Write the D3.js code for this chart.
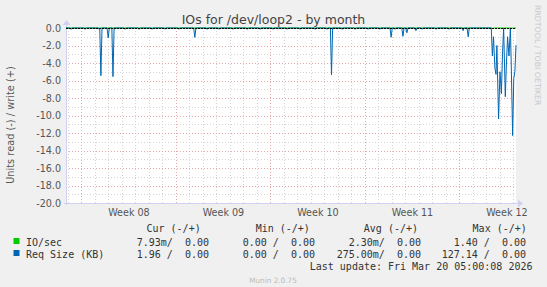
<!DOCTYPE html>
<html><head><meta charset="utf-8">
<script src="https://cdn.jsdelivr.net/npm/d3@7"></script>
<style>html,body{margin:0;padding:0;background:#f0f0f0;}svg{display:block;}</style>
</head><body>
<script>
// ---- data ----
const title = "IOs for /dev/loop2 - by month";
const yTicks = [0, -2, -4, -6, -8, -10, -12, -14, -16, -18, -20];
const weekLabelDates = ["2026-02-19 12:00", "2026-02-26 12:00", "2026-03-05 12:00", "2026-03-12 12:00", "2026-03-19 12:00"];
const timeDomain = ["2026-02-14 21:00", "2026-03-20 05:00"];
// Req Size (KB), read side (drawn negative)
const reqSizeRead = [
 ["02-14 21:00",0],
 ["02-15 04:00",0],["02-15 06:00",-0.15],["02-15 08:00",0],
 ["02-16 05:00",0],["02-16 07:00",-0.15],["02-16 09:00",0],
 ["02-17 06:00",0],["02-17 08:00",-0.15],["02-17 09:00",0],["02-17 11:00",-5.45],["02-17 13:00",0],
 ["02-17 22:00",0],["02-18 00:00",-1.14],["02-18 02:00",0],
 ["02-18 06:30",0],["02-18 08:30",-5.56],["02-18 10:30",0],
 ["02-19 04:00",0],["02-19 06:00",-0.15],["02-19 08:00",0],
 ["02-20 05:00",0],["02-20 07:00",-0.15],["02-20 09:00",0],
 ["02-21 04:00",0],["02-21 06:00",-0.15],["02-21 08:00",0],
 ["02-22 03:00",0],["02-22 05:00",-0.15],["02-22 07:00",0],
 ["02-23 04:00",0],["02-23 06:00",-0.15],["02-23 08:00",0],
 ["02-24 08:00",0],["02-24 10:00",-1.07],["02-24 12:00",0],
 ["02-25 06:00",0],["02-25 08:00",-0.15],["02-25 10:00",0],
 ["02-26 03:00",0],["02-26 05:00",-0.15],["02-26 07:00",0],
 ["02-27 04:00",0],["02-27 06:00",-0.15],["02-27 08:00",0],
 ["02-28 05:00",0],["02-28 07:00",-0.15],["02-28 09:00",0],
 ["03-01 04:00",0],["03-01 06:00",-0.15],["03-01 08:00",0],
 ["03-02 03:00",0],["03-02 05:00",-0.15],["03-02 07:00",0],
 ["03-03 04:00",0],["03-03 06:00",-0.15],["03-03 08:00",0],
 ["03-04 03:00",0],["03-04 05:00",-0.15],["03-04 07:00",0],
 ["03-05 06:00",0],["03-05 08:00",-0.15],["03-05 10:00",0],
 ["03-06 03:00",0],["03-06 05:00",-0.15],["03-06 07:00",0],
 ["03-06 11:00",0],["03-06 13:00",-5.35],["03-06 15:00",0],
 ["03-07 06:00",0],["03-07 08:00",-0.15],["03-07 10:00",0],
 ["03-08 05:00",0],["03-08 07:00",-0.15],["03-08 09:00",0],
 ["03-09 04:00",0],["03-09 06:00",-0.15],["03-09 08:00",0],
 ["03-10 01:00",0],["03-10 03:00",-0.15],["03-10 05:00",0],
 ["03-10 21:00",0],["03-10 23:00",-1.05],["03-11 01:00",0],
 ["03-11 04:00",0],["03-11 06:00",-0.15],["03-11 08:00",0],
 ["03-11 18:00",0],["03-11 20:00",-0.95],["03-11 22:00",0],
 ["03-12 01:00",0],["03-12 03:00",-0.55],["03-12 05:00",0],
 ["03-12 17:00",0],["03-12 19:00",-0.3],["03-12 21:00",0],
 ["03-13 04:00",0],["03-13 06:00",-0.15],["03-13 08:00",0],
 ["03-14 05:00",0],["03-14 07:00",-0.15],["03-14 09:00",0],
 ["03-15 04:00",0],["03-15 06:00",-0.15],["03-15 08:00",0],
 ["03-16 05:00",0],["03-16 07:00",-0.3],["03-16 09:00",0],
 ["03-16 14:00",0],["03-16 16:00",-1.0],["03-16 18:00",0],
 ["03-18 09:00",0],["03-18 11:00",-3.2],["03-18 13:00",-1.0],["03-18 15:30",-4.6],
 ["03-18 17:30",-5.3],["03-18 19:00",-2.0],["03-18 22:00",-10.4],["03-19 00:30",-5.0],
 ["03-19 03:00",-7.5],["03-19 05:00",-3.0],["03-19 07:00",0],["03-19 10:00",-7.85],
 ["03-19 12:00",-4.0],["03-19 14:00",-1.0],["03-19 16:30",-3.2],["03-19 19:00",0],
 ["03-19 20:30",-4.0],["03-19 23:00",-12.3],["03-20 01:00",-5.8],["03-20 03:00",-5.0],
 ["03-20 05:00",-1.96]
];
// IO/sec, read side (values are in milli-units, essentially zero at this scale)
const ioSecRead = [
 ["02-14 21:00",0],["03-18 09:00",0],["03-18 11:00",-0.05],["03-18 13:00",0],["03-20 05:00",-0.01]
];
const legendHeaders = ["Cur (-/+)", "Min (-/+)", "Avg (-/+)", "Max (-/+)"];
const legendSeries = ["IO/sec", "Req Size (KB)"];
const legendColors = ["#00cc00", "#0066b3"];
const legendValues = [
 ["7.93m/  0.00", "0.00 /  0.00", "2.30m/  0.00", "1.40 /  0.00"],
 ["1.96 /  0.00", "0.00 /  0.00", "275.00m/  0.00", "127.14 /  0.00"]
];
const lastUpdate = "Last update: Fri Mar 20 05:00:08 2026";
const footer = "Munin 2.0.75";
const sideText = "RRDTOOL / TOBI OETIKER";

// ---- drawing ----
const W = 547, H = 287;
const L = 66, R = 516, T = 28, B = 203;
const parseFull = d3.utcParse("%Y-%m-%d %H:%M");
const parseShort = s => parseFull("2026-" + s);
const nb = s => s.replace(/ /g, "\u00A0");

const svg = d3.select("body").append("svg").attr("width", W).attr("height", H)
  .style("font-family", "'DejaVu Sans', sans-serif");
svg.append("rect").attr("width", W).attr("height", H).attr("fill", "#f0f0f0");

const x = d3.scaleUtc().domain(timeDomain.map(parseFull)).range([L, R]);
const y = d3.scaleLinear().domain([-20, 0]).range([B, T]);

svg.append("rect").attr("x", L).attr("y", T).attr("width", R - L).attr("height", B - T).attr("fill", "#ffffff");

const days = d3.utcDay.range(x.domain()[0], x.domain()[1]);
const mondays = d3.utcMonday.range(x.domain()[0], x.domain()[1]);
const g = svg.append("g").attr("shape-rendering", "crispEdges");
const minorY = d3.range(-19, 0, 2);
g.selectAll(".mh").data(minorY).join("line")
  .attr("x1", L).attr("x2", R).attr("y1", d => Math.round(y(d)) + 0.5).attr("y2", d => Math.round(y(d)) + 0.5)
  .attr("stroke", "#d4d4d4").attr("stroke-dasharray", "1,2");
g.selectAll(".mv").data(days.filter(d => d3.utcMonday.floor(d) - d !== 0)).join("line")
  .attr("x1", d => Math.round(x(d)) + 0.5).attr("x2", d => Math.round(x(d)) + 0.5).attr("y1", T).attr("y2", B)
  .attr("stroke", "#d4d4d4").attr("stroke-dasharray", "1,2");
g.selectAll(".Mh").data(yTicks.filter(v => v !== 0 && v !== -20)).join("line")
  .attr("x1", L).attr("x2", R).attr("y1", d => Math.round(y(d)) + 0.5).attr("y2", d => Math.round(y(d)) + 0.5)
  .attr("stroke", "#e8a8a8").attr("stroke-dasharray", "1,2");
g.selectAll(".Mv").data(mondays).join("line")
  .attr("x1", d => Math.round(x(d)) + 0.5).attr("x2", d => Math.round(x(d)) + 0.5).attr("y1", T).attr("y2", B + 2)
  .attr("stroke", "#e8a8a8").attr("stroke-dasharray", "1,2");

g.append("line").attr("x1", L + 0.5).attr("x2", L + 0.5).attr("y1", T - 4).attr("y2", B + 2).attr("stroke", "#d0d0f0");
g.append("line").attr("x1", L - 2).attr("x2", R + 2).attr("y1", B + 0.5).attr("y2", B + 0.5).attr("stroke", "#d0d0f0");
svg.append("path").attr("d", `M${L - 3.5},${T - 3} L${L + 4.5},${T - 3} L${L + 0.5},${T - 8} Z`).attr("fill", "#d0d0f0");
svg.append("path").attr("d", `M${R + 2},${B - 3.5} L${R + 2},${B + 4.5} L${R + 7},${B + 0.5} Z`).attr("fill", "#d0d0f0");

svg.append("g").selectAll("text").data(yTicks).join("text")
  .attr("x", 61).attr("y", d => y(d) + 3.5).attr("text-anchor", "end")
  .attr("font-size", "9.6px").attr("fill", "#555").text(d => d.toFixed(1));

const xAxis = d3.axisBottom(x).tickValues(weekLabelDates.map(parseFull))
  .tickFormat(d3.utcFormat("Week %V")).tickSize(0).tickPadding(0);
const ax = svg.append("g").attr("transform", `translate(0,${B + 6})`).call(xAxis);
ax.select(".domain").remove();
ax.selectAll("text").attr("font-family", "'DejaVu Sans', sans-serif").attr("font-size", "9.6px")
  .attr("fill", "#555").attr("dy", "0.71em");

const line = d3.line().x(d => x(parseShort(d[0]))).y(d => y(d[1]));
svg.append("path").datum(ioSecRead).attr("d", line).attr("fill", "none").attr("stroke", legendColors[0]).attr("stroke-width", 1);
svg.append("path").datum(reqSizeRead).attr("d", line).attr("fill", "none").attr("stroke", legendColors[1]).attr("stroke-width", 1);
svg.append("line").attr("x1", L).attr("x2", R).attr("y1", y(0) + 0.5).attr("y2", y(0) + 0.5)
  .attr("stroke", "#000").attr("stroke-dasharray", "2,1").attr("shape-rendering", "crispEdges");

svg.append("text").attr("x", 273.5).attr("y", 24).attr("text-anchor", "middle")
  .attr("font-size", "12.5px").attr("fill", "#444").text(title);
svg.append("text").attr("transform", "translate(14,125) rotate(-90)").attr("text-anchor", "middle")
  .attr("font-size", "9.8px").attr("fill", "#555").text("Units read (-) / write (+)");
svg.append("text").attr("transform", "translate(535,5) rotate(90)").attr("text-anchor", "start")
  .attr("font-size", "7.8px").attr("fill", "#c8c8c8").text(sideText);

const mono = "'DejaVu Sans Mono', monospace";
const hdrX = [146.5, 255.7, 363.8, 472.6];
const valEnd = [209, 315, 421, 526];
const leg = svg.append("g").attr("font-family", mono).attr("font-size", "10px").attr("fill", "#333");
leg.selectAll(".h").data(legendHeaders).join("text").attr("x", (d, i) => hdrX[i]).attr("y", 232).text(d => nb(d));
legendSeries.forEach((s, r) => {
  const yy = 245.5 + r * 12;
  leg.append("rect").attr("x", 13.5).attr("y", yy - 7.5).attr("width", 6).attr("height", 6).attr("fill", legendColors[r]);
  leg.append("text").attr("x", 26).attr("y", yy).text(nb(s));
  leg.selectAll(".v" + r).data(legendValues[r]).join("text")
    .attr("x", (d, i) => valEnd[i]).attr("y", yy).attr("text-anchor", "end").text(d => nb(d));
});
leg.append("text").attr("x", 532.5).attr("y", 269.5).attr("text-anchor", "end").text(nb(lastUpdate));
svg.append("text").attr("x", 273).attr("y", 283).attr("text-anchor", "middle")
  .attr("font-size", "7.3px").attr("fill", "#bbb").text(footer);
</script>
</body></html>
